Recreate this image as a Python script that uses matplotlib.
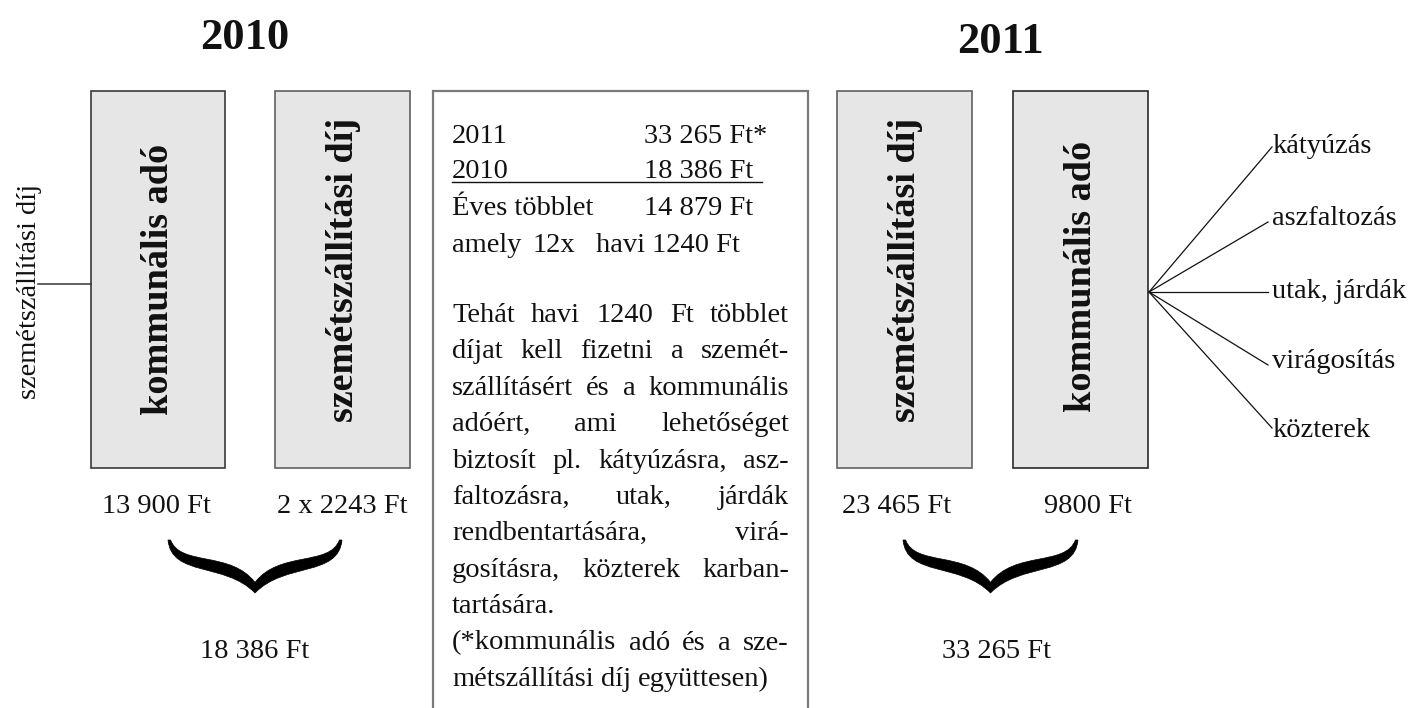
import matplotlib
matplotlib.use("Agg")
import matplotlib.pyplot as plt
from matplotlib.patches import Rectangle, PathPatch
from matplotlib.path import Path

# ---------------- data ----------------
years = ["2010", "2011"]
box_labels_2010 = ["kommunális adó", "szemétszállítási díj"]
amounts_2010 = ["13 900 Ft", "2 x 2243 Ft"]
total_2010 = "18 386 Ft"
box_labels_2011 = ["szemétszállítási díj", "kommunális adó"]
amounts_2011 = ["23 465 Ft", "9800 Ft"]
total_2011 = "33 265 Ft"
side_label = "szemétszállítási díj"
uses = ["kátyúzás", "aszfaltozás", "utak, járdák", "virágosítás", "közterek"]
summary_rows = [("2011", "33 265 Ft*"), ("2010", "18 386 Ft"),
                ("Éves többlet", "14 879 Ft")]
monthly_row = ["amely", "12x", "havi 1240 Ft"]
paragraph = [
    ("Tehát havi 1240 Ft többlet", True),
    ("díjat kell fizetni a szemét-", True),
    ("szállításért és a kommunális", True),
    ("adóért, ami lehetőséget", True),
    ("biztosít pl. kátyúzásra, asz-", True),
    ("faltozásra, utak, járdák", True),
    ("rendbentartására, virá-", True),
    ("gosításra, közterek karban-", True),
    ("tartására.", False),
    ("(*kommunális adó és a sze-", True),
    ("métszállítási díj együttesen)", False),
]

FONT = "Liberation Serif"
REG = 20.5
BOLD_BOX = 27.5
YEAR = 32

fig = plt.figure(figsize=(14.22, 7.08), dpi=100)
ax = fig.add_axes([0, 0, 1, 1])
ax.set_xlim(0, 1422)
ax.set_ylim(708, 0)
ax.axis("off")
renderer = fig.canvas.get_renderer()


def txt(x, y, s, **kw):
    opts = dict(family=FONT, fontsize=REG, color="#111111")
    opts.update(kw)
    return ax.text(x, y, s, **opts)


# year titles
txt(245, 49, years[0], fontsize=YEAR, weight="bold", ha="center", va="baseline")
txt(1000, 53, years[1], fontsize=YEAR, weight="bold", ha="center", va="baseline")

# boxes
box_x = [(91, 225), (275, 410), (837, 972), (1013, 1148)]
box_edges = ["#3a3a3a", "#606060", "#606060", "#2a2a2a"]
box_texts = box_labels_2010 + box_labels_2011
box_cy = [279, 270, 270, 276]
for (x0, x1), ec, lab, cy in zip(box_x, box_edges, box_texts, box_cy):
    ax.add_patch(Rectangle((x0, 91), x1 - x0, 377, facecolor="#e6e6e6",
                           edgecolor=ec, linewidth=1.2))
    txt((x0 + x1) / 2 + 1, cy, lab, fontsize=BOLD_BOX, weight="bold",
        rotation=90, ha="center", va="center", rotation_mode="anchor")

# left side label and connector
txt(30, 291, side_label, rotation=90, ha="center", va="center",
    rotation_mode="anchor")
ax.plot([38, 91], [284, 284], color="#333333", lw=1.1)

# amounts under boxes
amount_x = [156, 342, 897, 1088]
for x, s in zip(amount_x, amounts_2010 + amounts_2011):
    txt(x, 513, s, ha="center", va="baseline")
txt(255, 658, total_2010, ha="center", va="baseline")
txt(997, 658, total_2011, ha="center", va="baseline")


# braces
def brace(xl, xr, yt, yb):
    W = xr - xl
    H = yb - yt

    def P(u, v):
        return (xl + u * W, yt + v * H)

    verts = [P(0, 0), P(0.02, 0.70), P(0.33, 0.42), P(0.5, 1.0),
             P(0.67, 0.42), P(0.98, 0.70), P(1.0, 0.0),
             P(0.985, 0.0),
             P(0.93, 0.50), P(0.64, 0.20), P(0.5, 0.80),
             P(0.36, 0.20), P(0.07, 0.50), P(0.015, 0.0),
             P(0, 0)]
    codes = [Path.MOVETO] + [Path.CURVE4] * 6 + [Path.LINETO] + \
            [Path.CURVE4] * 6 + [Path.CLOSEPOLY]
    ax.add_patch(PathPatch(Path(verts, codes), facecolor="black",
                           edgecolor="black", lw=0.5))


brace(168, 342, 540, 593)
brace(903, 1078, 540, 593)

# fan of uses
origin = (1149, 292)
ends = [(1272, 147), (1268, 222), (1268, 292), (1268, 365), (1272, 428)]
label_y = [153, 225, 298, 368, 437]
for (ex, ey), ly, s in zip(ends, label_y, uses):
    ax.plot([origin[0], ex], [origin[1], ey], color="#111111", lw=0.9)
    txt(1272, ly, s, ha="left", va="baseline")

# center text box
ax.add_patch(Rectangle((433, 91), 375, 660, facecolor="white",
                       edgecolor="#7a7a7a", linewidth=1.6))

row_y = [143, 178, 215]
for (a, b), y in zip(summary_rows, row_y):
    txt(452, y, a, ha="left", va="baseline")
    txt(644, y, b, ha="left", va="baseline")
ax.plot([452, 762], [182, 182], color="#111111", lw=1.0)
for x, s in zip([452, 533, 596], monthly_row):
    txt(x, 252, s, ha="left", va="baseline")


def width_of(s):
    t = txt(0, 0, s)
    w = t.get_window_extent(renderer).width
    t.remove()
    return w


space_w = width_of("a a") - width_of("aa")
X0, X1 = 452, 789
y = 322
for line, just in paragraph:
    words = line.split(" ")
    ts = [txt(0, y, w, ha="left", va="baseline") for w in words]
    ws = [t.get_window_extent(renderer).width for t in ts]
    if just and len(words) > 1:
        gap = (X1 - X0 - sum(ws)) / (len(words) - 1)
    else:
        gap = space_w
    x = X0
    for t, w in zip(ts, ws):
        t.set_x(x)
        x += w + gap
    y += 36.4

fig.savefig("out.png", dpi=100, facecolor="white")
